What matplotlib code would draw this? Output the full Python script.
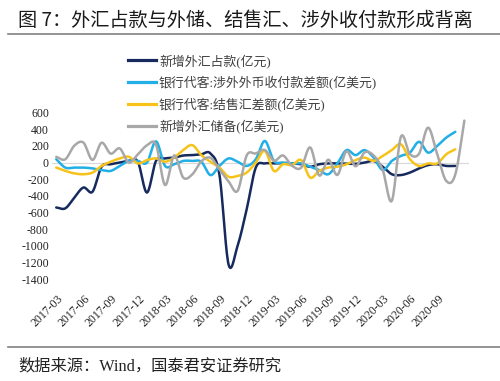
import numpy as np
import pandas as pd
import matplotlib
matplotlib.use('Agg')
from matplotlib import pyplot as plt
from matplotlib.lines import Line2D

plt.rcParams['font.family'] = ['Liberation Serif', 'Noto Sans CJK SC', 'DejaVu Sans']

# monthly data, 2017-02 .. 2020-11
months = pd.date_range('2017-02-01', periods=46, freq='MS').strftime('%Y-%m').tolist()

# 新增外汇占款(亿元), 2017-02 .. 2020-10
fx_funds = [-540, -550, -420, -300, -350, -50, -20, 0, 20, 10,
            -360, 20, 50, 60, 85, 90, 100, 110, -150, -1225,
            -1000, -560, -60, -10, -10, -5, -10, -20, -50, -20,
            -10, -10, -15, -15, 0, 20, -50, -140, -150, -120,
            -70, -30, -20, -40, -40]
# 银行代客:涉外外币收付款差额(亿美元)
cross_border = [40, -60, -60, -60, -70, -90, -100, -40, 20, 20,
                0, 255, -40, -20, 20, 20, 10, -150, -40, 50,
                10, -40, 40, 260, 20, 0, -10, -10, -50, -90,
                -140, -10, 150, 90, 150, 60, -90, 20, 80, 120,
                250, 120, 200, 300, 370]
# 银行代客:结售汇差额(亿美元)
fx_settle = [-60, -100, -130, -140, -120, -40, 10, 50, 70, -10,
             30, 50, 10, 60, 150, 210, 90, 10, -60, -170,
             -160, -120, 0, 140, -100, -20, -30, 30, -180, -100,
             -60, -50, -20, 30, 60, 20, 80, 150, 220, 40,
             -40, -10, -10, 100, 160]
# 新增外汇储备(亿美元), 2017-02 .. 2020-11
fx_reserve = [69, 40, 204, 240, 32, 239, 108, 170, 1, 99,
              207, 215, -270, 86, -180, -142, 15, 58, -82, -227,
              -339, 86, 110, 152, 22, 86, -38, -61, 182, -155,
              35, -148, 136, -44, 123, 85, -89, -460, 309, 102,
              106, 420, 103, -220, -143, 505]

names = ['新增外汇占款(亿元)', '银行代客:涉外外币收付款差额(亿美元)',
         '银行代客:结售汇差额(亿美元)', '新增外汇储备(亿美元)']
colors = ['#172a5e', '#22aee6', '#f7c31a', '#a8a8a8']
series = [fx_funds, cross_border, fx_settle, fx_reserve]


def smooth(y, n=16):
    # catmull-rom, like excel's smoothed line
    y = np.asarray(y, float)
    x = np.arange(len(y), dtype=float)
    yp = np.concatenate([[2 * y[0] - y[1]], y, [2 * y[-1] - y[-2]]])
    t = np.linspace(0, 1, n, endpoint=False)
    xs, ys = [], []
    for k in range(len(y) - 1):
        p0, p1, p2, p3 = yp[k], yp[k + 1], yp[k + 2], yp[k + 3]
        m1 = (p2 - p0) / 2
        m2 = (p3 - p1) / 2
        h00 = 2 * t**3 - 3 * t**2 + 1
        h10 = t**3 - 2 * t**2 + t
        h01 = -2 * t**3 + 3 * t**2
        h11 = t**3 - t**2
        ys.append(h00 * p1 + h10 * m1 + h01 * p2 + h11 * m2)
        xs.append(x[k] + t)
    xs.append([x[-1]])
    ys.append([y[-1]])
    return np.concatenate(xs), np.concatenate(ys)


fig = plt.figure(figsize=(5, 3.81), dpi=100)
ax = fig.add_axes([0.1034, 0.2677, 0.8344, 0.4365])

ax.axhline(0, color='#d9d9d9', lw=0.9, zorder=1)
for vals, c in zip(series, colors):
    xs, ys = smooth(vals)
    ax.plot(xs, ys, color=c, lw=1.8, solid_capstyle='round', zorder=2)

ax.set_xlim(-0.5, 45.5)
ax.set_ylim(-1400, 600)
ax.set_yticks(np.arange(-1400, 601, 200))
ax.set_yticklabels([str(v) for v in range(-1400, 601, 200)], fontsize=8.5)
tick_idx = list(range(1, 44, 3))
ax.set_xticks(tick_idx)
ax.set_xticklabels([months[i] for i in tick_idx], rotation=45, ha='right',
                   fontsize=8.5)
ax.tick_params(axis='both', length=0, colors='#222222')
ax.tick_params(axis='x', pad=10)
ax.tick_params(axis='y', pad=2)
for s in ax.spines.values():
    s.set_visible(False)

handles = [Line2D([], [], color=c, lw=2.3) for c in colors]
fig.legend(handles, names, loc='upper left', bbox_to_anchor=(128 / 500, 1 - 54 / 381),
           frameon=False, fontsize=9.3, handlelength=2.2, handletextpad=0.2,
           labelspacing=0.6, borderpad=0, borderaxespad=0, labelcolor='#404040')

fig.text(18 / 500, 1 - 20 / 381, '图 7：外汇占款与外储、结售汇、涉外收付款形成背离',
         fontsize=13.8, va='center', ha='left', color='#1a1a1a', weight='medium',
         family=['Noto Sans CJK SC', 'DejaVu Sans'])
fig.add_artist(Line2D([8 / 500, 1], [1 - 34 / 381, 1 - 34 / 381], color='#808080', lw=1.2))
fig.add_artist(Line2D([8 / 500, 1], [1 - 347 / 381, 1 - 347 / 381], color='#808080', lw=1.2))
fig.text(18 / 500, 1 - 366 / 381, '数据来源：Wind，国泰君安证券研究', fontsize=11.7,
         va='center', ha='left', color='#222222')

fig.savefig('out.png', dpi=100)
